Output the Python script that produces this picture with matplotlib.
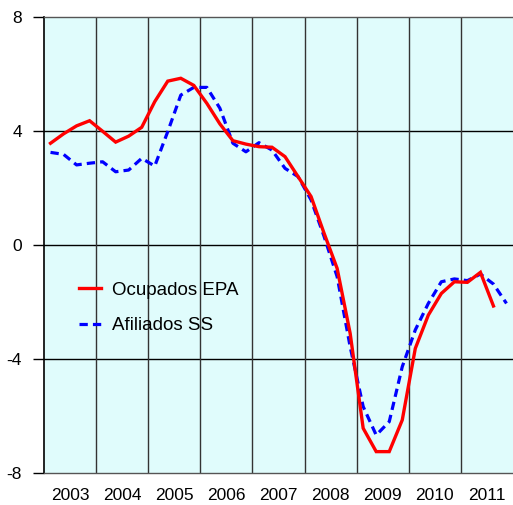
import matplotlib
matplotlib.use("Agg")
import matplotlib.pyplot as plt
import numpy as np

plt.rcParams['font.family'] = ['Liberation Sans', 'DejaVu Sans']

years = [2003, 2004, 2005, 2006, 2007, 2008, 2009, 2010, 2011]
ocupados_epa = [3.57, 3.90, 4.18, 4.36, 3.99, 3.61, 3.82, 4.13,
                5.03, 5.75, 5.85, 5.60, 4.97, 4.25, 3.66, 3.54,
                3.45, 3.43, 3.10, 2.40, 1.70, 0.41, -0.82, -3.10,
                -6.43, -7.25, -7.25, -6.14, -3.63, -2.46, -1.70, -1.29,
                -1.31, -0.96, -2.14]
afiliados_ss = [3.25, 3.18, 2.81, 2.87, 2.92, 2.57, 2.63, 3.04,
                2.77, 3.98, 5.26, 5.53, 5.53, 4.80, 3.57, 3.27,
                3.59, 3.33, 2.69, 2.40, 1.58, 0.30, -1.11, -3.57,
                -5.67, -6.67, -6.20, -4.27, -2.98, -2.05, -1.29, -1.19,
                -1.25, -1.02, -1.37, -2.05]
yticks = [-8, -4, 0, 4, 8]

def qx(n):
    return [years[0] + (i + 0.5) / 4 for i in range(n)]

fig = plt.figure(figsize=(5.13, 5.05), dpi=100)
ax = fig.add_axes([44/513, 32/505, 469/513, 456/505])
ax.set_facecolor('#E0FCFC')
ax.set_xlim(2003, 2012)
ax.set_ylim(-8, 8)

for y in [-4, 0, 4]:
    ax.axhline(y, color='black', lw=1.0, zorder=1)
for yr in years[1:]:
    ax.axvline(yr, color='#333333', lw=1.0, zorder=1)

ax.plot(qx(len(ocupados_epa)), ocupados_epa, color='#FF0000', lw=2.4,
        label='Ocupados EPA', zorder=3, solid_joinstyle='miter')
ax.plot(qx(len(afiliados_ss)), afiliados_ss, color='#0000FF', lw=2.3,
        linestyle=(0, (2.6, 1.6)), label='Afiliados SS', zorder=2)

ax.set_yticks(yticks)
ax.set_yticklabels([str(v) for v in yticks], fontsize=12.5)
ax.tick_params(axis='y', length=8, width=1, pad=8, direction='out')
ax.set_xticks([y + 0.5 for y in years])
ax.set_xticklabels([str(y) for y in years], fontsize=12.5)
ax.tick_params(axis='x', length=0, pad=11)

for s in ['top', 'bottom']:
    ax.spines[s].set_color('#555555')
    ax.spines[s].set_linewidth(1.0)
ax.spines['left'].set_color('black')
ax.spines['left'].set_linewidth(1.2)
ax.spines['right'].set_visible(False)

ax.legend(loc='upper left', bbox_to_anchor=(0.075, 0.42), frameon=False,
          fontsize=13.5, handlelength=1.15, handletextpad=0.6,
          labelspacing=1.0, borderaxespad=0, borderpad=0)

fig.savefig('out.png', dpi=100)
